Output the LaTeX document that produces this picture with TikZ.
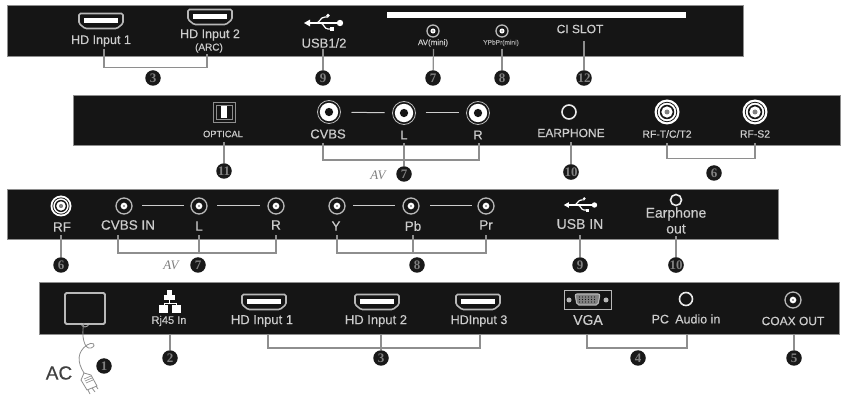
\documentclass[tikz,border=0pt]{standalone}
\usepackage{fontspec}
\setmainfont{Liberation Sans}[FakeBold=0.35]
\newfontfamily\serifb{Liberation Serif}
\definecolor{panel}{HTML}{151515}
\definecolor{txt}{HTML}{CCCCCC}
\definecolor{lin}{HTML}{8E8E8E}
\definecolor{ring}{HTML}{B8B8B8}
\newcommand\fs[1]{\fontsize{#1}{#1}\selectfont}
\newcommand\lab[4]{\node[lbl,font=\fs{#4}] (#1) at (#2) {#3};}
\newcommand\bd[3]{\node[bdg] (#1) at (#2) {#3};}
\newcommand\rca[3]{\node[portc,draw=ring,line width=.8pt,minimum size=#3*2pt] (#1) at (#2) {};
 \fill[white] (#2) circle[radius=#3*.8]; \fill[panel] (#2) circle[radius=#3*.36];}
\newcommand\rfj[3]{\node[portc,fill=white,minimum size=#3*2pt] (#1) at (#2) {};
 \draw[panel,line width=.8pt] (#2) circle[radius=#3*.78];
 \fill[panel] (#2) circle[radius=#3*.58]; \fill[white] (#2) circle[radius=#3*.45]; \fill[gray] (#2) circle[radius=#3*.2];}
\newcommand\sma[3]{\node[portc,draw=ring,line width=1.3pt,minimum size=#3*2pt] (#1) at (#2) {};
 \fill[white] (#2) circle[radius=#3*.42]; \fill[gray] (#2) circle[radius=#3*.15];}
\newcommand\ear[3]{\node[portc,draw=white!92!black,line width=1.6pt,minimum size=#3*2pt] (#1) at (#2) {};}
\tikzset{
 panelbox/.style={fill=panel,draw=lin,line width=.7pt},
 lbl/.style={text=txt,inner sep=0pt,outer sep=0pt,anchor=center},
 bdg/.style={circle,fill=black!90,minimum size=15.5pt,inner sep=0pt,text=gray,font=\serifb\bfseries\fs{13}},
 portc/.style={circle,inner sep=0pt,outer sep=0pt},
 wire/.style={draw=lin,line width=1.2pt},
 link/.style={draw=txt,line width=1pt},
 avlabel/.style={inner sep=0pt,text=gray,font=\serifb\itshape\fs{13}},
 hdmiport/.pic={
  \draw[ring,line width=1.6pt,rounded corners=1.5pt] (-22,-7.5)--(22,-7.5)--(22,2.5)--(16,7.5)--(-16,7.5)--(-22,2.5)--cycle;
  \fill[white] (-17,-2.5) rectangle (17,2.5);},
 usbicon/.pic={
  \draw[white,line width=1.3pt] (-15,0)--(17,0);
  \fill[white] (-19,0)--(-13,-3.4)--(-13,3.4)--cycle;
  \fill[white] (17,0) circle[radius=3.2];
  \draw[white,line width=1.2pt] (-7,0) .. controls (-3,0) and (-3,-6) .. (2,-6)--(5,-6);
  \fill[white] (5,-7.5) circle[radius=1.8];
  \draw[white,line width=1.2pt] (-3,0) .. controls (1,0) and (1,6) .. (5,6)--(8,6);
  \fill[white] (7,4.2) rectangle (10.5,7.8);},
}
\begin{document}
\begin{tikzpicture}[x=1pt,y=-1pt]
\useasboundingbox (0,0) rectangle (841,395);
\fill[white] (0,0) rectangle (841,395);
% ---- panels
\path[panelbox] (7,5) rectangle (743,56);
\path[panelbox] (73,95) rectangle (840,145);
\path[panelbox] (7,189) rectangle (778,239);
\path[panelbox] (39,282) rectangle (839,334);
% ---- panel 1
\pic at (101,21) {hdmiport};
\pic at (210,17) {hdmiport};
\lab{a1}{101,41}{HD Input 1}{12.5}
\lab{a2}{210,35}{HD Input 2}{12.5}
\lab{a2b}{209,48}{(ARC)}{10}
\pic at (323,23) {usbicon};
\lab{a3}{324,43}{USB1/2}{13}
\fill[white] (387,12.5) rectangle (686,18);
\sma{a4p}{433,31}{6}
\lab{a4}{433,43}{AV(mini)}{8}
\sma{a5p}{502,31}{6}
\node[lbl,text=gray!70,font=\fs{6.6}] (a5) at (501,43) {YPbPr(mini)};
\lab{a6}{580,29}{CI SLOT}{12}
\coordinate (a1f) at (104,49); \coordinate (a2f) at (207,54);
\coordinate (a3f) at (323,49); \coordinate (a4f) at (433.5,49);
\coordinate (a5f) at (502,49); \coordinate (a6f) at (584,41);
\bd{b3a}{153,78}{3}\bd{b9a}{323,78}{9}\bd{b7a}{433,78}{7}\bd{b8a}{502,78}{8}\bd{b12a}{584,78}{12}
\draw[wire] (a1f) |- (a2f |- 0,67.5) -- (a2f);
\draw[wire] (a3f) -- (b9a);
\draw[wire] (a4f) -- (b7a);
\draw[wire] (a5f) -- (b8a);
\draw[wire] (a6f) -- (b12a);
% ---- panel 2
\draw[lin,line width=.9pt] (213,102) rectangle (235,122);
\draw[lin,line width=.8pt] (216,105) rectangle (232,119);
\fill[white] (221,106) rectangle (227,118);
\lab{c1}{223,134}{OPTICAL}{9.3}
\rca{c2p}{329,112}{11.5}
\rca{c3p}{404,113}{11.5}
\rca{c4p}{478,113}{11.5}
\lab{c2}{328,134}{CVBS}{13}
\lab{c3}{404,135}{L}{13}
\lab{c4}{478,135}{R}{13}
\draw[link,shorten <=11pt,shorten >=8pt] (c2p) -- (c3p);
\draw[link,shorten <=10pt,shorten >=8pt] (c3p) -- (c4p);
\ear{c5p}{569,112}{7}
\lab{c5}{571,133}{EARPHONE}{12}
\rfj{c6p}{667,112}{12.5}
\rfj{c7p}{755,112}{12.5}
\lab{c6}{667,134}{RF-T/C/T2}{10.4}
\lab{c7}{755,134}{RF-S2}{10.4}
\coordinate (c1f) at (224,142); \coordinate (c2f) at (323,143);
\coordinate (c3f) at (404,143); \coordinate (c4f) at (479,143);
\coordinate (c5f) at (571,142); \coordinate (c6f) at (667,143); \coordinate (c7f) at (755,143);
\bd{b11c}{224,171}{11}\bd{b7c}{404,174}{7}\bd{b10c}{571,172}{10}\bd{b6c}{714,173}{6}
\node[avlabel] (avc) at (378,175) {AV};
\draw[wire] (c1f) -- (b11c);
\draw[wire] (c2f) |- (c4f |- 0,160) -- (c4f);
\draw[wire] (c3f) -- (b7c);
\draw[wire] (c5f) -- (b10c);
\draw[wire] (c6f) |- (c7f |- 0,158.5) -- (c7f);
% ---- panel 3
\rfj{d1p}{61,206}{10.5}
\lab{d1}{62,227}{RF}{13.5}
\sma{d2p}{124,206}{8}
\sma{d3p}{199,206}{8}
\sma{d4p}{276,206}{8}
\sma{d5p}{337,206}{8}
\sma{d6p}{411,206}{8}
\sma{d7p}{486,206}{8}
\draw[link,shorten <=10pt,shorten >=7pt] (d2p) -- (d3p);
\draw[link,shorten <=10pt,shorten >=8pt] (d3p) -- (d4p);
\draw[link,shorten <=8pt,shorten >=8pt] (d5p) -- (d6p);
\draw[link,shorten <=11pt,shorten >=6pt] (d6p) -- (d7p);
\lab{d2}{128,225}{CVBS IN}{13.5}
\lab{d3}{199,226}{L}{13.5}
\lab{d4}{276,225}{R}{13.5}
\lab{d5}{336,226}{Y}{13.5}
\lab{d6}{413,226}{Pb}{13.5}
\lab{d7}{486,225}{Pr}{13.5}
\pic[scale=.85] at (580,205) {usbicon};
\lab{d8}{580,224}{USB IN}{14}
\ear{d9p}{676,200}{5.5}
\lab{d9}{676,214}{Earphone}{14}
\lab{d9b}{676,229}{out}{14}
\coordinate (d1f) at (61,235); \coordinate (d2f) at (118,235); \coordinate (d3f) at (199,235);
\coordinate (d4f) at (276,235); \coordinate (d5f) at (337,235); \coordinate (d6f) at (413,235);
\coordinate (d7f) at (486,235); \coordinate (d8f) at (580,235); \coordinate (d9f) at (676,236);
\bd{b6d}{61,265}{6}\bd{b7d}{198,265}{7}\bd{b8d}{417,265}{8}\bd{b9d}{580,265}{9}\bd{b10d}{676,265}{10}
\node[avlabel] (avd) at (171,265) {AV};
\draw[wire] (d1f) -- (b6d);
\draw[wire] (d2f) |- (d4f |- 0,253) -- (d4f);
\draw[wire] (d3f) -- (d3f |- 0,253);
\draw[wire] (d5f) |- (d7f |- 0,253) -- (d7f);
\draw[wire] (d6f) -- (d6f |- 0,253);
\draw[wire] (d8f) -- (b9d);
\draw[wire] (d9f) -- (b10d);
% ---- panel 4
\draw[ring,line width=1.8pt,rounded corners=1.5pt] (65,293) rectangle (105,324);
\draw[ring,line width=.8pt] (81,323) arc[start angle=180,end angle=0,radius=4];
\fill[white] (167,290) rectangle (172,295);
\fill[white] (164,295) -- (175,295) -- (175,300) -- (164,300) -- cycle;
\draw[white,line width=.8pt] (169.5,300) -- (169.5,303) (164,303) -- (176,303) (164,303) -- (164,306) (176,303) -- (176,306);
\fill[white] (159,305) rectangle (168,313);
\fill[white] (172,305) rectangle (181,313);
\lab{e2}{169,321}{Rj45 In}{11}
\pic at (264,302) {hdmiport};
\pic at (377,302) {hdmiport};
\pic at (478,302) {hdmiport};
\lab{e3}{262,321}{HD Input 1}{13}
\lab{e4}{376,321}{HD Input 2}{13}
\lab{e5}{479,321}{HDInput 3}{12.6}
\draw[ring,line width=.9pt] (564,290) rectangle (611,309);
\draw[ring,fill=ring!70!black,line width=1.1pt,rounded corners=2pt] (575,294) -- (600,294) -- (598,305) -- (577,305) -- cycle;
\fill[ring] (569,300) circle[radius=2.5] (606,300) circle[radius=2.5];
\foreach \i in {0,...,5}{\fill[panel] (579.5+\i*3,297) circle[radius=.7] (579.5+\i*3,299.5) circle[radius=.7] (579.5+\i*3,302) circle[radius=.7];}
\lab{e6}{588,320}{VGA}{14}
\ear{e7p}{686,299}{6.5}
\lab{e7}{686,319}{PC\enspace Audio in}{12.5}
\sma{e8p}{793,300}{8}
\lab{e8}{793,321}{COAX OUT}{12}
\node[inner sep=0pt,text=black!75,font=\fs{19}] (ac) at (59,373) {AC};
\bd{b1e}{104,366}{1}\bd{b2e}{170,358}{2}\bd{b3e}{381,358}{3}\bd{b4e}{638,358}{4}\bd{b5e}{794,358}{5}
\coordinate (e1f) at (84,323); \coordinate (e2f) at (170,334); \coordinate (e3f) at (268,334);
\coordinate (e4f) at (381,334); \coordinate (e5f) at (480,334); \coordinate (e6f) at (587,334);
\coordinate (e7f) at (687,334); \coordinate (e8f) at (794,334); \coordinate (plug) at (84,373);
\draw[lin,line width=.8pt] (e1f) .. controls (81,335) and (84,350) .. (91,348)
  .. controls (98,345) and (92,341) .. (87,345) .. controls (77,352) and (77,362) .. (plug);
\draw[lin,line width=.8pt,fill=white] (plug) -- (91,375) -- (97,386) -- (87,390) -- (81,380) -- cycle;
\draw[lin,line width=.6pt] (84,379) -- (91,376) (85,381) -- (92,378) (86,383) -- (93,380);
\draw[lin,line width=.8pt] (88,390) -- (90,394) (92,388) -- (95,392) (96,386) -- (98,389);
\draw[wire] (e2f) -- (b2e);
\draw[wire] (e3f) |- (e5f |- 0,348) -- (e5f);
\draw[wire] (e4f) -- (b3e);
\draw[wire] (e6f) |- (e7f |- 0,348) -- (e7f);
\draw[wire] (e8f) -- (b5e);
\end{tikzpicture}
\end{document}
